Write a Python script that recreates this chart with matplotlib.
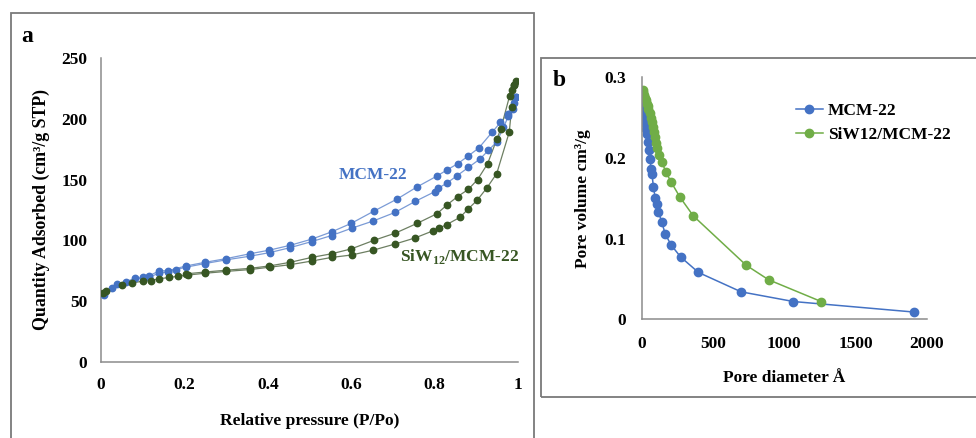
import matplotlib
matplotlib.use("Agg")
import matplotlib.pyplot as plt
from matplotlib.patches import Rectangle

# N2 isotherms (relative pressure, quantity adsorbed cm3/g STP)
p_mcm_ads = [0.007, 0.027, 0.039, 0.06, 0.082, 0.10, 0.116, 0.14, 0.16, 0.18, 0.204,
             0.25, 0.30, 0.357, 0.405, 0.453, 0.505, 0.553, 0.601, 0.653, 0.705, 0.753,
             0.80, 0.809, 0.829, 0.853, 0.881, 0.909, 0.929, 0.949, 0.965, 0.977, 0.989, 0.995]
q_mcm_ads = [55, 61, 64, 66, 69, 69, 70, 73, 74, 76, 78,
             81, 84, 87, 90, 94, 99, 104, 110, 116, 123, 132,
             140, 143, 147, 153, 160, 167, 174, 181, 193, 202, 208, 218]
p_mcm_des = [0.995, 0.99, 0.975, 0.958, 0.938, 0.906, 0.879, 0.855, 0.83, 0.806, 0.758,
             0.71, 0.654, 0.60, 0.553, 0.505, 0.454, 0.404, 0.357, 0.30, 0.25, 0.204,
             0.16, 0.14, 0.116, 0.10]
q_mcm_des = [218, 213, 204, 197, 189, 176, 169, 163, 158, 153, 144,
             134, 124, 114, 107, 101, 96, 92, 89, 85, 82, 79,
             75, 75, 71, 70]

p_siw_ads = [0.005, 0.013, 0.05, 0.075, 0.10, 0.12, 0.14, 0.164, 0.184, 0.208, 0.25,
             0.30, 0.357, 0.405, 0.453, 0.505, 0.553, 0.601, 0.653, 0.705, 0.753, 0.797,
             0.81, 0.829, 0.861, 0.881, 0.902, 0.925, 0.949, 0.979, 0.985, 0.99]
q_siw_ads = [57, 58, 63, 65, 66.5, 67, 68.5, 69.5, 70.5, 71.5, 73,
             74.5, 76, 78, 80, 83, 86, 88, 92, 97, 102, 108,
             110, 113, 119, 126, 133, 143, 155, 189, 210, 228]
p_siw_des = [0.995, 0.99, 0.985, 0.98, 0.959, 0.949, 0.927, 0.903, 0.881, 0.855, 0.829,
             0.806, 0.758, 0.706, 0.654, 0.60, 0.553, 0.505, 0.454, 0.404, 0.357, 0.30,
             0.25, 0.204]
q_siw_des = [231, 228, 224, 219, 192, 183, 163, 150, 142, 136, 129,
             122, 114, 106, 100, 93, 89, 86, 82, 79, 77, 75.5,
             74, 72.5]

# BJH pore size distribution (pore diameter in angstrom, pore volume cm3/g)
d_mcm = [5, 8, 12, 16, 20, 25, 30, 35, 42, 50, 58, 66, 72, 82, 95, 105, 117,
         140, 164, 206, 274, 398, 697, 1064, 1907]
v_mcm = [0.280, 0.272, 0.265, 0.258, 0.250, 0.243, 0.236, 0.229, 0.219, 0.209,
         0.198, 0.186, 0.180, 0.164, 0.150, 0.143, 0.133, 0.121, 0.106, 0.092,
         0.077, 0.058, 0.034, 0.022, 0.009]
d_siw = [8, 12, 16, 22, 28, 35, 41, 47, 55, 63, 70, 77, 85, 93, 103, 110, 124,
         140, 171, 206, 269, 362, 732, 889, 1258]
v_siw = [0.284, 0.281, 0.278, 0.274, 0.271, 0.267, 0.264, 0.260, 0.255, 0.249,
         0.244, 0.238, 0.232, 0.226, 0.218, 0.212, 0.204, 0.195, 0.182, 0.170,
         0.151, 0.128, 0.067, 0.049, 0.022]

BLUE = "#4472C4"
DKGREEN = "#375623"
LTGREEN = "#70AD47"
SPINE = "#8c8c8c"
FONT = "Liberation Serif"
FS = 12.5

plt.rcParams["font.family"] = FONT
plt.rcParams["font.weight"] = "bold"
plt.rcParams["mathtext.fontset"] = "custom"
plt.rcParams["mathtext.rm"] = "Liberation Serif:bold"
plt.rcParams["mathtext.bf"] = "Liberation Serif:bold"

W, H = 976, 438
fig = plt.figure(figsize=(W / 100, H / 100), dpi=100)


def px_axes(x0, y0, x1, y1):
    """Axes placed by pixel box (left, top, right, bottom)."""
    return fig.add_axes([x0 / W, 1 - y1 / H, (x1 - x0) / W, (y1 - y0) / H])


def style(ax, xpad, ypad):
    for s in ("top", "right"):
        ax.spines[s].set_visible(False)
    for s in ("left", "bottom"):
        ax.spines[s].set_color(SPINE)
        ax.spines[s].set_linewidth(1.1)
    ax.tick_params(length=0, labelsize=FS)
    ax.tick_params(axis="x", pad=xpad)
    ax.tick_params(axis="y", pad=ypad)
    for lab in ax.get_xticklabels() + ax.get_yticklabels():
        lab.set_fontweight("bold")


# panel frames
fig.patches.append(Rectangle((11 / W, -0.05), 523 / W, 1.05 - 12.7 / H,
                             transform=fig.transFigure, fill=False,
                             edgecolor="#7a7a7a", lw=1.3))
fig.patches.append(Rectangle((540.7 / W, 1 - 396.7 / H), 0.5, (396.7 - 57.7) / H,
                             transform=fig.transFigure, fill=False,
                             edgecolor="#7a7a7a", lw=1.3))

# (a) isotherms
ax1 = px_axes(101, 58, 518, 362)
for p, q, c, lc in [(p_mcm_ads, q_mcm_ads, BLUE, "#7b9bd6"),
                    (p_mcm_des, q_mcm_des, BLUE, "#7b9bd6"),
                    (p_siw_ads, q_siw_ads, DKGREEN, "#6d7f62"),
                    (p_siw_des, q_siw_des, DKGREEN, "#6d7f62")]:
    ax1.plot(p, q, color=lc, lw=0.9, zorder=2)
    ax1.plot(p, q, ls="none", marker="o", ms=4.6, color=c, zorder=3)
ax1.set_xlim(0, 1)
ax1.set_ylim(0, 250)
ax1.set_xticks([0, 0.2, 0.4, 0.6, 0.8, 1])
ax1.set_xticklabels(["0", "0.2", "0.4", "0.6", "0.8", "1"])
ax1.set_yticks(range(0, 251, 50))
style(ax1, xpad=11, ypad=10)
ax1.set_xlabel("Relative pressure (P/Po)", fontsize=FS, fontweight="bold", labelpad=14)
ax1.set_ylabel("Quantity Adsorbed (cm³/g STP)", fontsize=12.8,
               fontweight="bold", labelpad=8)
ax1.text(0.652, 154, "MCM-22", color=BLUE, fontsize=FS, fontweight="bold",
         ha="center", va="center")
ax1.text(0.861, 86.6, "SiW$_{\\mathbf{12}}$/MCM-22", color=DKGREEN, fontsize=FS,
         fontweight="bold", ha="center", va="center")
fig.text(27 / W, 1 - 37 / H, "a", fontsize=17, fontweight="bold", ha="center", va="center")

# (b) pore size distribution
ax2 = px_axes(641.7, 77, 927, 319.3)
ax2.plot(d_mcm, v_mcm, color=BLUE, lw=1.1, marker="o", ms=6, label="MCM-22")
ax2.plot(d_siw, v_siw, color=LTGREEN, lw=1.1, marker="o", ms=6, label="SiW12/MCM-22")
ax2.set_xlim(0, 2000)
ax2.set_ylim(0, 0.3)
ax2.set_xticks([0, 500, 1000, 1500, 2000])
ax2.set_yticks([0, 0.1, 0.2, 0.3])
ax2.set_yticklabels(["0", "0.1", "0.2", "0.3"])
style(ax2, xpad=12, ypad=11)
ax2.set_xlabel("Pore diameter Å", fontsize=FS, fontweight="bold", labelpad=13)
ax2.set_ylabel("Pore volume cm³/g", fontsize=FS, fontweight="bold", labelpad=10)
ax2.legend(loc="upper left", bbox_to_anchor=(0.515, 0.92), frameon=False,
           prop={"family": FONT, "weight": "bold", "size": FS},
           handlelength=1.6, handletextpad=0.25, labelspacing=0.45, borderaxespad=0)
fig.text(559 / W, 1 - 80 / H, "b", fontsize=17, fontweight="bold", ha="center", va="center")

fig.savefig("out.png", dpi=100)
